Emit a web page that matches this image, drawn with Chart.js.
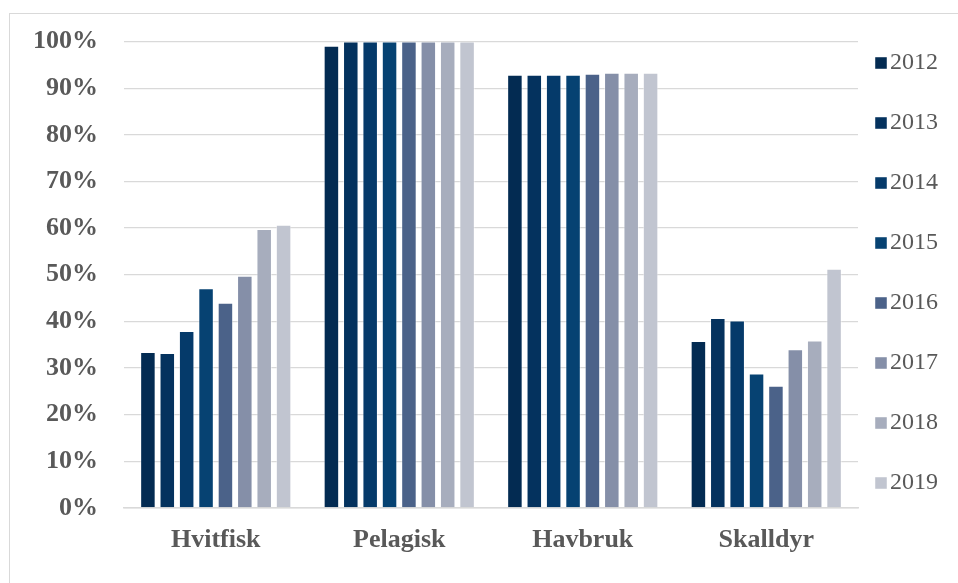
<!DOCTYPE html>
<html>
<head>
<meta charset="utf-8">
<script src="https://cdn.jsdelivr.net/npm/chart.js@4/dist/chart.umd.min.js"></script>
<style>
    html, body { margin: 0; padding: 0; background: #fff; overflow: hidden; }
    #frame { position: absolute; left: 9px; top: 13px; width: 1200px; height: 1200px; border: 1px solid #d9d9d9; }
    #wrap { position: absolute; left: 0; top: 0; width: 958px; height: 583px; }
</style>
</head>
<body>
<div id="frame"></div>
<div id="wrap"><canvas id="shareChart"></canvas></div>
<script>
/* ================= DATA ================= */
const categories = ['Hvitfisk', 'Pelagisk', 'Havbruk', 'Skalldyr'];
const years = ['2012', '2013', '2014', '2015', '2016', '2017', '2018', '2019'];

const v2012 = [33.4, 99.1, 92.9, 35.8];
const v2013 = [33.2, 100, 92.9, 40.7];
const v2014 = [37.9, 100, 92.9, 40.2];
const v2015 = [47.1, 100, 92.9, 28.8];
const v2016 = [44.0, 100, 93.1, 26.2];
const v2017 = [49.8, 100, 93.3, 34.0];
const v2018 = [59.8, 100, 93.3, 35.9];
const v2019 = [60.7, 100, 93.3, 51.3];

const yTicks = [0, 10, 20, 30, 40, 50, 60, 70, 80, 90, 100];

const seriesValues = [v2012, v2013, v2014, v2015, v2016, v2017, v2018, v2019];
const colors = ['#032b52', '#04325e', '#053a6a', '#064272', '#4b6289', '#858fa8', '#a7adbd', '#c1c5d0'];

/* ================= LEGEND PLACEMENT ================= */
// Chart.js uses the same padding for item spacing and box offset, so move the box afterwards
const legendPlacement = {
    id: 'legendPlacement',
    afterLayout(chart) {
        const lg = chart.legend;
        if (!lg) return;
        lg.left = chart.chartArea.right - 19;
        lg.right = 938;
        lg.top = 15;
    }
};

/* ================= CHART ================= */
const ctx = document.getElementById('shareChart');
new Chart(ctx, {
    type: 'bar',
    data: {
        labels: categories,
        datasets: years.map((y, i) => ({
            label: y,
            data: seriesValues[i],
            backgroundColor: colors[i],
            borderColor: 'rgba(255,255,255,0.45)',
            borderWidth: 1,
            categoryPercentage: 0.845,
            barPercentage: 0.8
        }))
    },
    options: {
        responsive: true,
        maintainAspectRatio: false,
        animation: false,
        layout: { padding: { left: 7, right: 0, top: 27, bottom: 10 } },
        plugins: {
            tooltip: { enabled: false },
            legend: {
                position: 'right',
                align: 'start',
                maxWidth: 100,
                labels: {
                    boxWidth: 12,
                    boxHeight: 12,
                    padding: 36,
                    color: '#595959',
                    textAlign: 'right',
                    font: { family: 'Liberation Serif', size: 24 }
                }
            }
        },
        scales: {
            x: {
                grid: { display: false, drawTicks: false },
                border: { color: '#d9d9d9', width: 1.5 },
                ticks: {
                    color: '#595959',
                    padding: 17,
                    font: { family: 'Liberation Serif', size: 26, weight: 'bold' }
                }
            },
            y: {
                min: 0,
                max: 100,
                afterBuildTicks: scale => { scale.ticks = yTicks.map(v => ({ value: v })); },
                grid: { color: '#d9d9d9', lineWidth: 1.3, drawTicks: false },
                border: { display: false },
                ticks: {
                    color: '#595959',
                    padding: 26,
                    callback: v => v + '%',
                    font: { family: 'Liberation Serif', size: 26, weight: 'bold' }
                }
            }
        }
    },
    plugins: [legendPlacement]
});
</script>
</body>
</html>
